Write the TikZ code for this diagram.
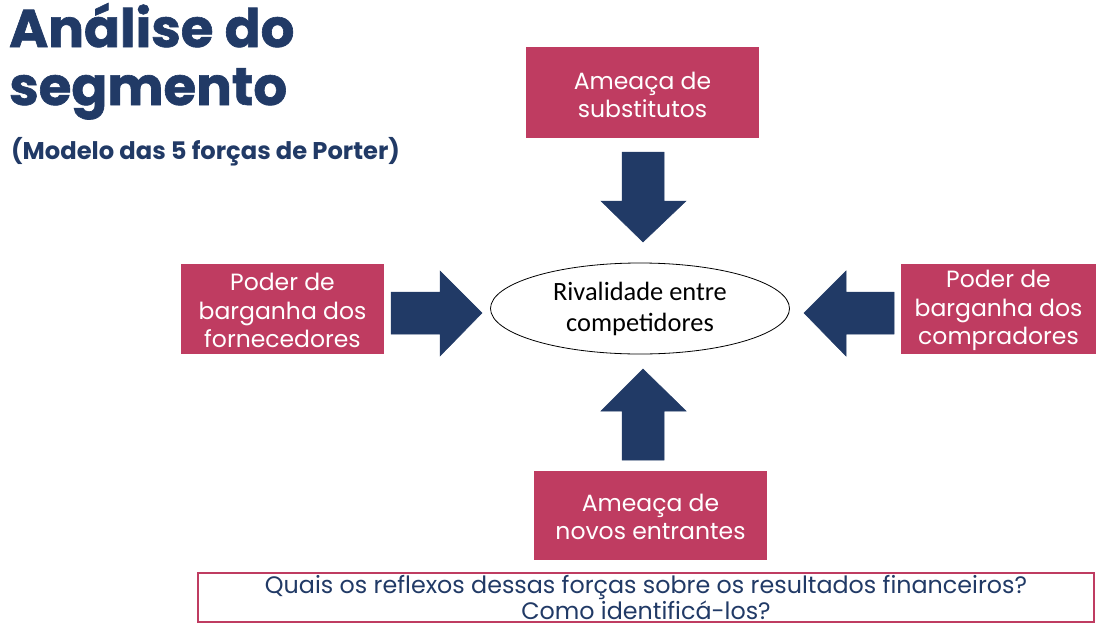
\documentclass[tikz,border=0pt]{standalone}
\usepackage{fontspec}
\usetikzlibrary{shapes.geometric}
\setmainfont{Poppins}
\newfontfamily\calib{Carlito}
\newfontfamily\heavyf[FakeBold=1.2]{Poppins Bold}
\definecolor{navy}{HTML}{213A66}
\definecolor{rose}{HTML}{BF3C61}
\tikzset{
  forcebox/.style={fill=rose, draw=none, text=white, align=center, font=\fontsize{23.5}{28.5}\selectfont, inner sep=0pt},
  blockarrow/.style={fill=navy, draw=navy, line width=0.5pt},
  titletext/.style={anchor=base west, inner sep=0pt, text=navy},
}
\begin{document}
\begin{tikzpicture}[x=1pt,y=-1pt]
\useasboundingbox (0,0) rectangle (1119,640);
% title
\node[titletext, font=\heavyf\fontsize{53}{57}\selectfont] (t1) at (9,47) {Análise do};
\node[titletext, font=\heavyf\fontsize{53}{57}\selectfont] (t2) at (9,105) {segmento};
\node[titletext, font=\fontsize{24.2}{26}\selectfont\bfseries] (t3) at (11,159) {(Modelo das 5 forças de Porter)};
% boxes
\fill[rose] (526,47) rectangle (759,138);
\node[forcebox] (top) at (642.5,95) {Ameaça de\\substitutos};
\fill[rose] (181,264) rectangle (384,354);
\node[forcebox] (left) at (282.5,310.5) {Poder de\\barganha dos\\fornecedores};
\fill[rose] (901,264) rectangle (1096,354);
\node[forcebox] (right) at (998.5,310.5) {Poder de\\barganha dos\\compradores};
\fill[rose] (534,471) rectangle (767,560);
\node[forcebox] (bottom) at (650.5,517) {Ameaça de\\novos entrantes};
% ellipse
\node[draw=black, line width=0.8pt, ellipse, minimum width=299pt, minimum height=91pt, inner sep=0pt, align=center, font=\calib\fontsize{26.4}{31}\selectfont] (center) at (640,308.5) {Rivalidade entre\\competidores};
% arrows
\filldraw[blockarrow] (622,152) -- (664,152) -- (664,201) -- (686,201) -- (643,242) -- (601,201) -- (622,201) -- cycle;
\filldraw[blockarrow] (622,460) -- (664,460) -- (664,411) -- (686,411) -- (643,369) -- (601,411) -- (622,411) -- cycle;
\filldraw[blockarrow] (391,292) -- (391,334) -- (440,334) -- (440,356) -- (482,313) -- (440,271) -- (440,292) -- cycle;
\filldraw[blockarrow] (894,292) -- (894,334) -- (846,334) -- (846,356) -- (804,313) -- (846,271) -- (846,292) -- cycle;
% question box
\node[draw=rose, line width=1.3pt, minimum width=896pt, minimum height=49pt, inner sep=0pt, text=navy, align=center, font=\fontsize{23.8}{24}\selectfont] (q) at (646,597.5) {Quais os reflexos dessas forças sobre os resultados financeiros?\\Como identificá-los?};
\end{tikzpicture}
\end{document}
